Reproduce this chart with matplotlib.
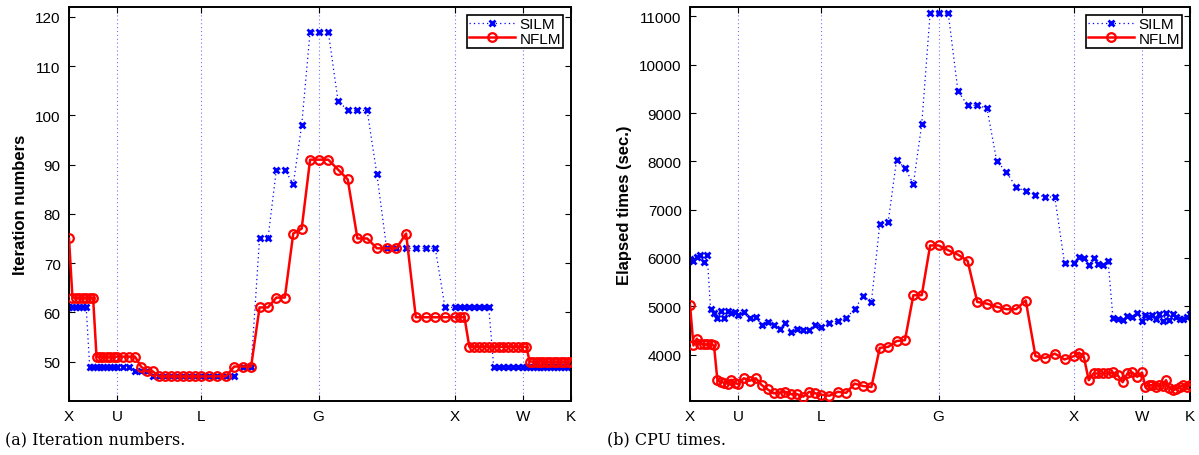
import numpy as np
import matplotlib
matplotlib.use("Agg")
import matplotlib.pyplot as plt

# k-path: X-U-L-G-X-W-K (FCC), segment lengths in 2pi/a units
path_labels = ["X", "U", "L", "G", "X", "W", "K"]
segment_lengths = [np.sqrt(2) / 4, np.sqrt(6) / 4, np.sqrt(3) / 2, 1.0, 0.5, np.sqrt(2) / 4]
intervals_per_segment = 14

# (a) Iteration numbers
silm_iter = [61, 61, 61, 61, 61, 61, 49, 49, 49, 49, 49, 49, 49, 49, 49,
             49, 49, 48, 48, 48, 47, 47, 47, 47, 47, 47, 47, 47, 47,
             47, 47, 47, 47, 49, 49, 75, 75, 89, 89, 86, 98, 117, 117,
             117, 103, 101, 101, 101, 88, 73, 73, 73, 73, 73, 73, 61, 61,
             61, 61, 61, 61, 61, 61, 61, 49, 49, 49, 49, 49, 49, 49,
             49, 49, 49, 49, 49, 49, 49, 49, 49, 49, 49, 49, 49, 49]
nflm_iter = [75, 63, 63, 63, 63, 63, 63, 63, 51, 51, 51, 51, 51, 51, 51,
             51, 51, 51, 49, 48, 48, 47, 47, 47, 47, 47, 47, 47, 47,
             47, 47, 47, 49, 49, 49, 61, 61, 63, 63, 76, 77, 91, 91,
             91, 89, 87, 75, 75, 73, 73, 73, 76, 59, 59, 59, 59, 59,
             59, 59, 53, 53, 53, 53, 53, 53, 53, 53, 53, 53, 53, 53,
             53, 50, 50, 50, 50, 50, 50, 50, 50, 50, 50, 50, 50, 50]

# (b) CPU times (sec.)
silm_time = [5970, 5930, 6020, 6070, 5920, 6070, 4950, 4870, 4750, 4900, 4750, 4900, 4870, 4880, 4810,
             4880, 4760, 4770, 4620, 4680, 4610, 4540, 4650, 4460, 4520, 4510, 4510, 4620, 4570,
             4660, 4690, 4760, 4940, 5210, 5090, 6700, 6750, 8030, 7860, 7530, 8770, 11070, 11070,
             11070, 9460, 9160, 9160, 9100, 8010, 7780, 7470, 7380, 7300, 7270, 7255, 5900, 5900,
             6030, 5990, 5850, 6000, 5880, 5860, 5930, 4760, 4730, 4710, 4800, 4780, 4870, 4690,
             4810, 4780, 4830, 4745, 4850, 4690, 4870, 4710, 4850, 4780, 4730, 4730, 4780, 4850]
nflm_time = [5035, 4190, 4330, 4230, 4210, 4210, 4230, 4190, 3470, 3430, 3420, 3400, 3480, 3420, 3390,
             3510, 3460, 3510, 3370, 3280, 3200, 3210, 3230, 3180, 3180, 3130, 3230, 3200, 3170,
             3150, 3230, 3210, 3400, 3350, 3330, 4140, 4160, 4280, 4300, 5230, 5230, 6260, 6260,
             6160, 6070, 5940, 5090, 5055, 4990, 4940, 4940, 5120, 3970, 3930, 4020, 3900, 3970,
             4040, 3950, 3470, 3610, 3610, 3610, 3610, 3630, 3570, 3430, 3610, 3630, 3540, 3630,
             3330, 3370, 3370, 3330, 3370, 3360, 3470, 3310, 3260, 3290, 3330, 3370, 3330, 3370]

# build k-path coordinates
nodes = np.concatenate([[0.0], np.cumsum(segment_lengths)])
kx = [nodes[0]]
for a, b in zip(nodes[:-1], nodes[1:]):
    kx.extend(np.linspace(a, b, intervals_per_segment + 1)[1:])
kx = np.array(kx)

plt.rcParams['font.family'] = ['Liberation Sans', 'DejaVu Sans']

fig = plt.figure(figsize=(11.99, 4.56), dpi=100)
W, H = 1199, 456
ax1 = fig.add_axes([69 / W, 1 - 402 / H, 502 / W, 394 / H])
ax2 = fig.add_axes([690 / W, 1 - 402 / H, 500 / W, 394 / H])

def draw(ax, silm, nflm, ylim, yticks, ylabel):
    for xv in nodes[1:-1]:
        ax.axvline(xv, color=(0.45, 0.45, 1.0), lw=0.8, ls=(0, (1, 2.5)), zorder=1)
    ax.plot(kx, silm, color='blue', ls=(0, (1, 2.5)), lw=0.9, marker='x',
            ms=4.2, mew=2.0, mec='blue', label='SILM', zorder=2)
    ax.plot(kx, nflm, color='red', ls='-', lw=1.8, marker='o', ms=6.2,
            mfc='none', mec='red', mew=1.6, label='NFLM', zorder=3)
    ax.set_xlim(nodes[0], nodes[-1])
    ax.set_ylim(*ylim)
    ax.set_yticks(yticks)
    ax.set_xticks(nodes)
    ax.set_xticklabels(path_labels)
    ax.tick_params(direction='in', top=True, right=True, labelsize=11,
                   length=4, width=0.8, colors='black', pad=6)
    ax.set_ylabel(ylabel, fontsize=12, fontweight='bold', labelpad=5)
    for sp in ax.spines.values():
        sp.set_linewidth(1.4)
    leg = ax.legend(loc='upper right', fontsize=11, frameon=True, fancybox=False,
                    edgecolor='black', framealpha=1, borderpad=0.15, labelspacing=0.05,
                    handlelength=3.0, handletextpad=0.3, borderaxespad=0.5)
    leg.get_frame().set_linewidth(1.2)

draw(ax1, silm_iter, nflm_iter, (42, 122), np.arange(50, 121, 10), 'Iteration numbers')
draw(ax2, silm_time, nflm_time, (3040, 11195), np.arange(4000, 11001, 1000), 'Elapsed times (sec.)')

fig.text(5 / W, 1 - 440 / H, '(a) Iteration numbers.', fontsize=11.5,
         family='DejaVu Serif', va='center', ha='left')
fig.text(607 / W, 1 - 440 / H, '(b) CPU times.', fontsize=11.5,
         family='DejaVu Serif', va='center', ha='left')

fig.savefig('out.png', dpi=100)
